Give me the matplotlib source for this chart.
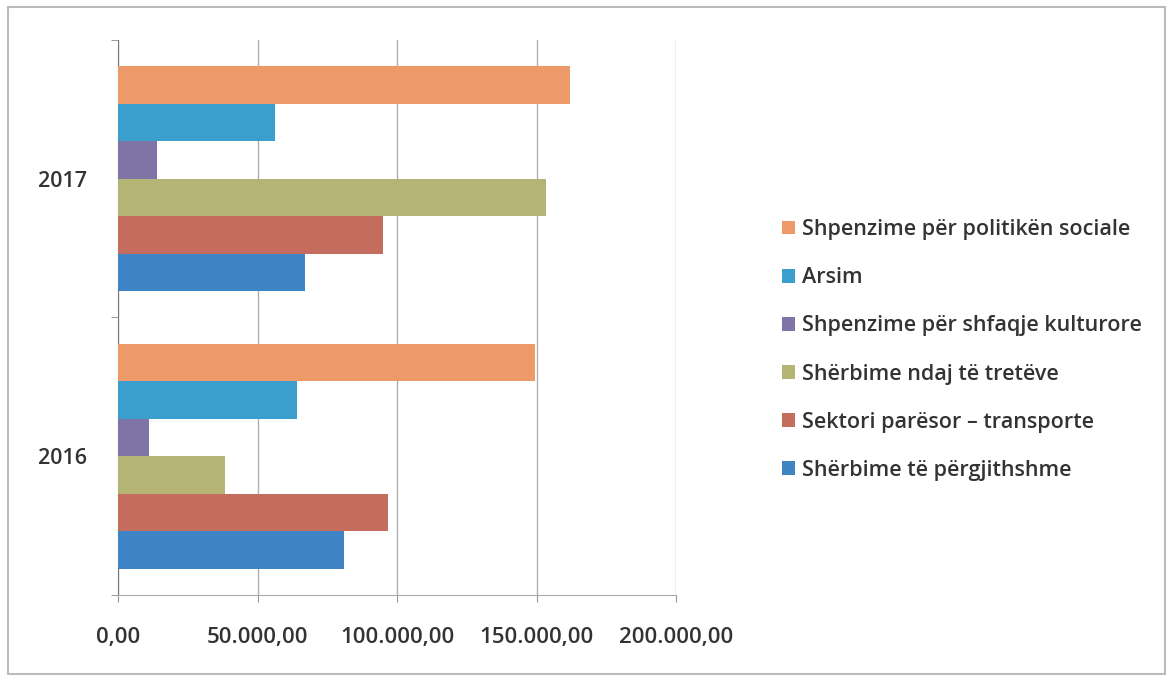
import numpy as np
import matplotlib.pyplot as plt
from matplotlib.patches import Rectangle
from matplotlib.ticker import FuncFormatter

years = ['2016', '2017']
series = ['Shërbime të përgjithshme', 'Sektori parësor – transporte',
          'Shërbime ndaj të tretëve', 'Shpenzime për shfaqje kulturore',
          'Arsim', 'Shpenzime për politikën sociale']
values = {
    'Shërbime të përgjithshme': [81000, 67000],
    'Sektori parësor – transporte': [96800, 95000],
    'Shërbime ndaj të tretëve': [38400, 153400],
    'Shpenzime për shfaqje kulturore': [11100, 14000],
    'Arsim': [64200, 56300],
    'Shpenzime për politikën sociale': [149500, 162000],
}
colors = ['#3F85C6', '#C46C5E', '#B4B574', '#7F74A5', '#3A9FCC', '#EE9A68']

plt.rcParams['font.family'] = ['Open Sans', 'DejaVu Sans']
plt.rcParams['font.weight'] = 'semibold'

fig = plt.figure(figsize=(11.71, 6.77), dpi=100)
ax = fig.add_axes([0.1008, 0.1211, 0.4765, 0.82])

h = 0.135
y = np.arange(len(years))
for i, s in enumerate(series):
    off = (i - (len(series) - 1) / 2) * h
    ax.barh(y + off, values[s], height=h, color=colors[i], label=s, zorder=3)

ax.set_xlim(0, 200000)
ax.set_ylim(-0.5, 1.5)
ax.set_xticks([0, 50000, 100000, 150000, 200000])
fmt = lambda v, p: '{:,.2f}'.format(v).replace(',', 'X').replace('.', ',').replace('X', '.')
ax.xaxis.set_major_formatter(FuncFormatter(fmt))
ax.grid(axis='x', color='#B0B0B0', linewidth=1, zorder=0)
ax.set_yticks(y)
ax.set_yticklabels(years)
ax.set_yticks([-0.5, 0.5, 1.5], minor=True)
ax.tick_params(axis='y', which='major', length=0, pad=22, labelsize=15.5, colors='#333333')
ax.tick_params(axis='y', which='minor', length=5, color='#888888', direction='out')
ax.tick_params(axis='x', length=5, color='#999999', labelsize=16, labelcolor='#333333', pad=18)
for sp in ['top', 'right']:
    ax.spines[sp].set_visible(False)
ax.spines['left'].set_color('#777777')
ax.spines['bottom'].set_color('#AAAAAA')

handles, labels = ax.get_legend_handles_labels()
leg = fig.legend(handles[::-1], labels[::-1], loc='center left', bbox_to_anchor=(0.651, 0.483),
                 frameon=False, fontsize=15.5, handlelength=0.6, handleheight=0.6,
                 handletextpad=0.35, labelspacing=1.26, labelcolor='#333333')

fig.patches.append(Rectangle((0.007, 0.005), 0.988, 0.985, transform=fig.transFigure,
                             fill=False, edgecolor='#BBBBBB', linewidth=1.5))

fig.savefig('out.png', dpi=100)
